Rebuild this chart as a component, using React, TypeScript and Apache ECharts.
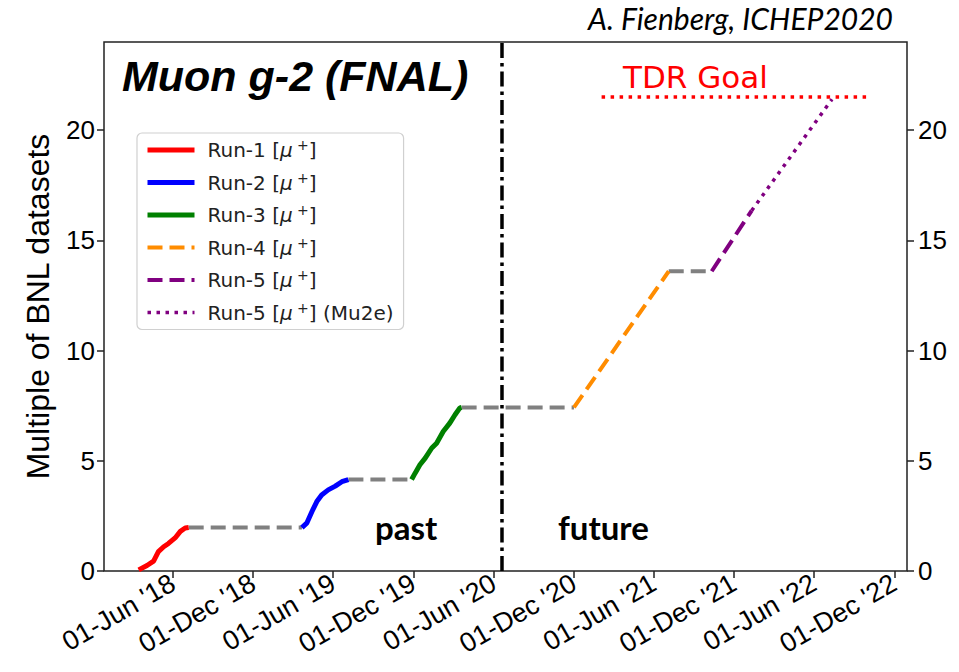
import React, { useEffect, useRef } from "react";
import * as echarts from "echarts";

// ---- data ----
const xTickDates = [
  "2018-06-01", "2018-12-01", "2019-06-01", "2019-12-01", "2020-06-01",
  "2020-12-01", "2021-06-01", "2021-12-01", "2022-06-01", "2022-12-01",
];
const yTicks = [0, 5, 10, 15, 20];

const run1: [string, number][] = [
  ["2018-03-15", 0.05], ["2018-04-03", 0.25], ["2018-04-18", 0.45], ["2018-04-29", 0.88],
  ["2018-05-11", 1.1], ["2018-05-22", 1.25], ["2018-06-06", 1.5], ["2018-06-18", 1.8],
  ["2018-06-29", 1.95], ["2018-07-07", 1.97],
];
const run2: [string, number][] = [
  ["2019-03-22", 1.97], ["2019-04-02", 2.17], ["2019-04-14", 2.7], ["2019-04-25", 3.15],
  ["2019-05-06", 3.45], ["2019-05-21", 3.68], ["2019-06-06", 3.85], ["2019-06-21", 4.05],
  ["2019-07-06", 4.15],
];
const run3: [string, number][] = [
  ["2019-11-27", 4.15], ["2019-12-05", 4.44], ["2019-12-16", 4.82], ["2019-12-28", 5.12],
  ["2020-01-12", 5.58], ["2020-01-23", 5.8], ["2020-02-07", 6.33], ["2020-02-22", 6.71],
  ["2020-03-05", 7.09], ["2020-03-16", 7.4], ["2020-03-20", 7.42],
];
const run4: [string, number][] = [["2020-12-01", 7.42], ["2021-07-05", 13.6]];
const run5: [string, number][] = [["2021-10-11", 13.6], ["2022-01-10", 16.35]];
const run5mu2e: [string, number][] = [["2022-01-10", 16.35], ["2022-07-12", 21.4]];
const gaps: ([string, number] | null)[] = [
  ["2018-07-07", 1.97], ["2019-03-22", 1.97], null,
  ["2019-07-06", 4.15], ["2019-11-27", 4.15], null,
  ["2020-03-20", 7.42], ["2020-12-01", 7.42], null,
  ["2021-07-05", 13.6], ["2021-10-11", 13.6],
];
const tdrGoal: [string, number][] = [["2021-02-02", 21.5], ["2022-09-28", 21.5]];
const nowDate = "2020-06-20";
const xMin = "2017-12-26";
const xMax = "2022-12-30";
const yMax = 24;

const legendNames = [
  "Run-1 [μ+]", "Run-2 [μ+]", "Run-3 [μ+]", "Run-4 [μ+]", "Run-5 [μ+]", "Run-5 [μ+] (Mu2e)",
];
const MONTHS = ["Jan", "Feb", "Mar", "Apr", "May", "Jun", "Jul", "Aug", "Sep", "Oct", "Nov", "Dec"];

const ts = (s: string) => {
  const [y, m, d] = s.split("-").map(Number);
  return Date.UTC(y, m - 1, d);
};
const conv = (arr: ([string, number] | null)[]) =>
  arr.map((p) => (p ? [ts(p[0]), p[1]] : ["-", "-"]));

export default function App() {
  const ref = useRef<HTMLDivElement>(null);
  useEffect(() => {
    if (!ref.current) return;
    const chart = echarts.init(ref.current, null, { renderer: "svg" });
    const axisFont = { fontFamily: "Liberation Sans", color: "#000" };
    const DASH = [15, 7];
    const DOT = [3.5, 5.5];
    const styles = [
      { color: "#ff0000", width: 5, type: "solid" },
      { color: "#0000ff", width: 5, type: "solid" },
      { color: "#008000", width: 5, type: "solid" },
      { color: "#ff8c00", width: 4, type: DASH },
      { color: "#800080", width: 4, type: DASH },
      { color: "#800080", width: 3.5, type: DOT },
    ];
    const seriesData = [run1, run2, run3, run4, run5, run5mu2e];
    const line = (name: string, data: any, st: any, z = 3) => ({
      name,
      type: "line",
      data,
      symbol: "none",
      connectNulls: false,
      z,
      lineStyle: { color: st.color, width: st.width, type: st.type, cap: "butt" },
      itemStyle: { color: st.color },
    });
    const txt = { fontFamily: "DejaVu Sans", fontSize: 20, color: "#222", lineHeight: 24 };
    chart.setOption({
      animation: false,
      backgroundColor: "#fff",
      grid: {
        left: 104, right: 52, top: 42, bottom: 101,
        show: true, borderColor: "#222", borderWidth: 1.5, backgroundColor: "transparent",
      },
      xAxis: {
        type: "value",
        min: ts(xMin),
        max: ts(xMax),
        splitLine: { show: false },
        axisLine: { show: false },
        axisTick: {
          show: true, length: 7, lineStyle: { color: "#222", width: 1.5 },
          customValues: xTickDates.map(ts),
        },
        axisLabel: {
          ...axisFont,
          fontSize: 27,
          rotate: 30,
          margin: 10,
          customValues: xTickDates.map(ts),
          formatter: (v: number) => {
            const d = new Date(v);
            return `01-${MONTHS[d.getUTCMonth()]} '${String(d.getUTCFullYear()).slice(2)}`;
          },
        },
      },
      yAxis: [
        {
          type: "value",
          min: 0, max: yMax,
          name: "Multiple of BNL datasets",
          nameLocation: "middle",
          nameGap: 50,
          nameTextStyle: { ...axisFont, fontSize: 32 },
          splitLine: { show: false },
          axisLine: { show: false },
          axisTick: { show: true, length: 7, lineStyle: { color: "#222", width: 1.5 }, customValues: yTicks },
          axisLabel: { ...axisFont, fontSize: 26, margin: 9, customValues: yTicks },
        },
        {
          type: "value",
          min: 0, max: yMax,
          position: "right",
          splitLine: { show: false },
          axisLine: { show: false },
          axisTick: { show: true, length: 7, lineStyle: { color: "#222", width: 1.5 }, customValues: yTicks },
          axisLabel: { ...axisFont, fontSize: 26, margin: 11, customValues: yTicks },
        },
      ],
      legend: {
        data: legendNames.map((n, i) => ({
          name: n,
          itemStyle: { opacity: 0 },
          lineStyle: { color: styles[i].color, width: styles[i].width, type: styles[i].type },
        })),
        orient: "vertical",
        left: 137,
        top: 133,
        itemWidth: 47,
        itemHeight: 14,
        itemGap: 8.5,
        padding: [5, 10, 5, 8],
        backgroundColor: "#fff",
        borderColor: "#d0d0d0",
        borderWidth: 1.2,
        borderRadius: 5,
        selectedMode: false,
        textStyle: {
          ...txt,
          padding: [0, 0, 0, 8],
          rich: {
            t: { ...txt },
            mu: { ...txt, fontStyle: "italic" },
            sup: { ...txt, fontSize: 14, verticalAlign: "top" },
          },
        },
        formatter: (name: string) => {
          const [a, b] = name.split("[μ+]");
          return `{t|${a}[}{mu|μ}{sup| +}{t|]${b}}`;
        },
      },
      series: [
        line("gap", conv(gaps), { color: "#808080", width: 4, type: DASH }, 2),
        ...legendNames.map((n, i) => line(n, conv(seriesData[i]), styles[i])),
        line("TDR Goal", conv(tdrGoal), { color: "#ff0000", width: 3.5, type: DOT }),
        line("now", conv([[nowDate, 0], [nowDate, yMax]]), { color: "#000", width: 3.5, type: [15, 5, 3.5, 5] }, 4),
      ],
      graphic: [
        {
          type: "text", x: 122, y: 76, z: 10,
          style: {
            text: "Muon g-2 (FNAL)", fontFamily: "Liberation Sans", fontWeight: "bold",
            fontStyle: "italic", fontSize: 43, fill: "#000", verticalAlign: "middle",
          },
        },
        {
          type: "text", x: 893, y: 18, z: 10,
          style: {
            text: "A. Fienberg, ICHEP2020", fontFamily: "Lato", fontStyle: "italic",
            fontSize: 30, fill: "#000", align: "right", verticalAlign: "middle",
          },
        },
        {
          type: "text", x: 623, y: 77, z: 10,
          style: {
            text: "TDR Goal", fontFamily: "DejaVu Sans", fontSize: 31, fill: "#ff0000",
            verticalAlign: "middle",
          },
        },
        {
          type: "text", x: 375, y: 527, z: 10,
          style: { text: "past", fontFamily: "Lato", fontWeight: "bold", fontSize: 33, fill: "#000", verticalAlign: "middle" },
        },
        {
          type: "text", x: 558, y: 527, z: 10,
          style: { text: "future", fontFamily: "Lato", fontWeight: "bold", fontSize: 33, fill: "#000", verticalAlign: "middle" },
        },
      ],
    });
    return () => chart.dispose();
  }, []);
  return <div ref={ref} style={{ width: 959, height: 672, position: "absolute", left: 0, top: 0 }} />;
}
